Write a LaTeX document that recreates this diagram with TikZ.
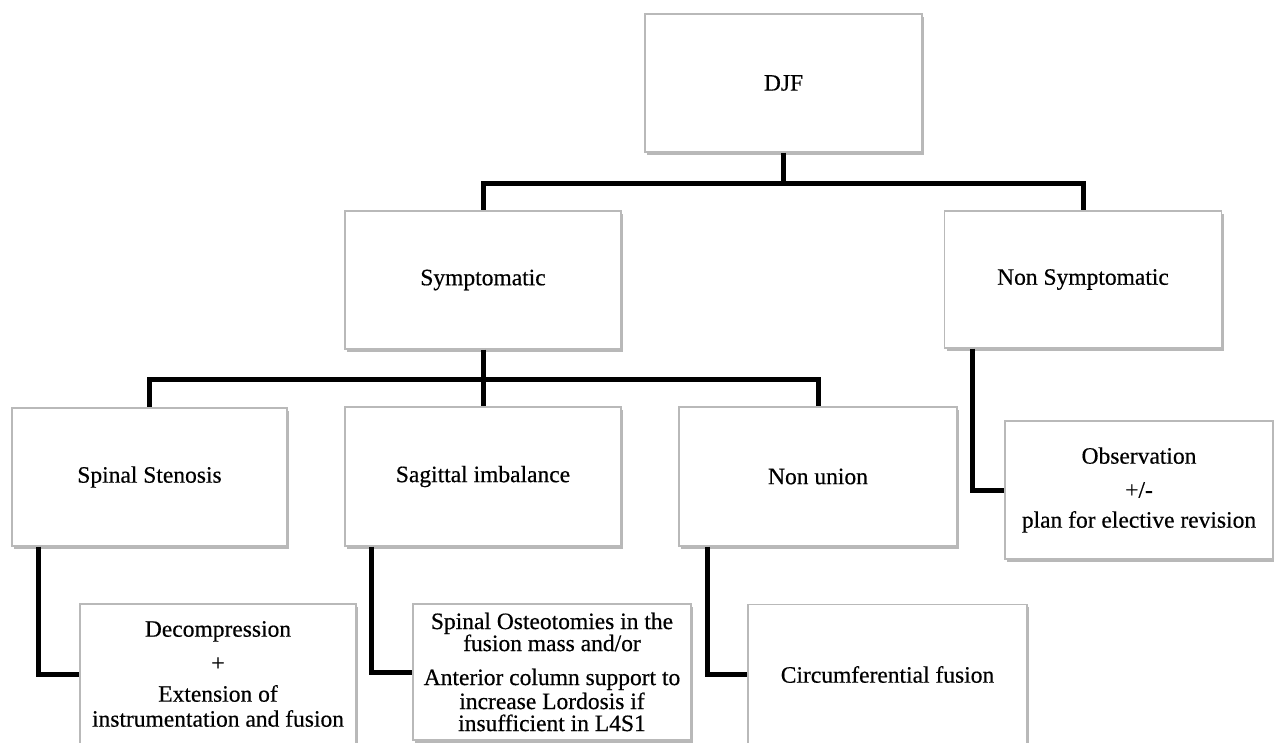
\documentclass[tikz,border=0pt]{standalone}
\usepackage{fontspec}
\setmainfont{Liberation Serif}[FakeBold=0.5]
\newfontfamily\boxfont{Liberation Serif}[FakeBold=0.5]
\usetikzlibrary{shadows}
\begin{document}
\begin{tikzpicture}[x=1pt,y=-1pt,
  box/.style={draw=gray!55, line width=1.3pt, fill=white, rectangle, inner sep=2pt,
    align=center, font=\boxfont\fontsize{23.5}{25}\selectfont,
    drop shadow={shadow xshift=2pt, shadow yshift=-2.5pt, fill=black, opacity=0.28}},
  link/.style={line width=5pt, line join=miter, line cap=butt}]
\clip (0,0) rectangle (1274,742);
\fill[white] (0,0) rectangle (1274,742);

\node[box, minimum width=277pt, minimum height=138pt] (djf) at (783.5,83) {DJF};
\node[box, minimum width=276pt, minimum height=138pt] (sym) at (483,280) {Symptomatic};
\node[box, minimum width=277pt, minimum height=137pt] (nsym) at (1083,279.5) {Non Symptomatic};
\node[box, minimum width=275pt, minimum height=138pt] (sten) at (149.5,477) {Spinal Stenosis};
\node[box, minimum width=276pt, minimum height=139pt] (sag) at (483,476.5) {Sagittal imbalance};
\node[box, minimum width=278pt, minimum height=139pt] (nonu) at (818,476.5) {Non union};
\node[box, minimum width=268pt, minimum height=138pt] (obs) at (1139,490)
  {Observation\\[9pt] +/-\\[5pt] plan for elective revision};
\node[box, minimum width=276pt, minimum height=140pt] (dec) at (218,674)
  {Decompression\\[9pt] +\\[6pt] Extension of\\ instrumentation and fusion};
\node[box, minimum width=278pt, minimum height=136pt, font=\boxfont\fontsize{23.5}{22}\selectfont] (ost) at (552,672)
  {Spinal Osteotomies in the\\ fusion mass and/or\\[12pt] Anterior column support to\\[2pt] increase Lordosis if\\ insufficient in L4S1};
\node[box, minimum width=279pt, minimum height=140pt] (circ) at (887.5,674.5) {Circumferential fusion};

\coordinate (b1) at (783.5,183);
\coordinate (b2) at (483,379);
\draw[link] (djf.south) -- (b1);
\draw[link] (b1) -| (sym.north);
\draw[link] (b1) -| (nsym.north);
\draw[link] (sym.south) -- (b2);
\draw[link] (b2) -| (sten.north);
\draw[link] (b2) -- (sag.north);
\draw[link] (b2) -| (nonu.north);
\draw[link] ([xshift=27pt]sten.south west) |- (dec.west);
\draw[link] ([xshift=27pt]sag.south west) |- (ost.west);
\draw[link] ([xshift=29pt]nonu.south west) |- (circ.west);
\draw[link] ([xshift=29pt]nsym.south west) |- (obs.west);
\end{tikzpicture}
\end{document}
